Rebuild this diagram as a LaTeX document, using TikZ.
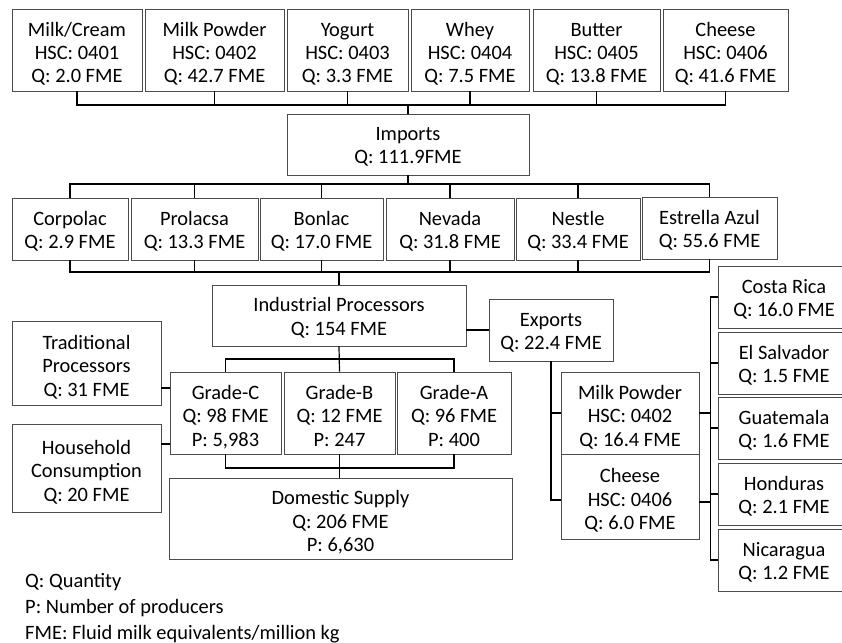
\documentclass[tikz,border=0pt]{standalone}
\usepackage{fontspec}
\setmainfont{Carlito}
\begin{document}
\begin{tikzpicture}[x=1bp,y=-1bp,
    font=\fontsize{20.5}{23.5}\selectfont,
    box/.style={draw=black!70,line width=0.9bp,align=center,inner sep=0pt,
        minimum height=#1,text height=39bp,text depth=0bp},
    box/.default=62bp,
    box3/.style={box=#1,text height=66bp},
    box3/.default=82bp,
    link/.style={draw=black,line width=1.2bp}]
    \useasboundingbox (0,0) rectangle (842,643);
    \coordinate (topbus) at (0,105);
    \coordinate (midbus) at (0,184);
    \coordinate (lowbus) at (0,272);
    \coordinate (gradetop) at (0,359);
    \coordinate (gradelow) at (0,468);
    % imported products
    \node[box3,minimum width=130bp] (milkcream) at (77,50) {Milk/Cream\\HSC: 0401\\Q: 2.0 FME};
    \node[box3,minimum width=139bp] (milkpowder) at (214.5,50) {Milk Powder\\HSC: 0402\\Q: 42.7 FME};
    \node[box3,minimum width=121bp] (yogurt) at (347.5,50) {Yogurt\\HSC: 0403\\Q: 3.3 FME};
    \node[box3,minimum width=118bp] (whey) at (470,50) {Whey\\HSC: 0404\\Q: 7.5 FME};
    \node[box3,minimum width=127bp] (butter) at (596.5,50) {Butter\\HSC: 0405\\Q: 13.8 FME};
    \node[box3,minimum width=125bp] (cheese) at (725.5,50) {Cheese\\HSC: 0406\\Q: 41.6 FME};
    \node[box=61bp,minimum width=242bp] (imports) at (408,144.5) {Imports\\Q: 111.9FME};
    % firms
    \node[box,minimum width=116bp] (corpolac) at (70,229) {Corpolac\\Q: 2.9 FME};
    \node[box,minimum width=127bp] (prolacsa) at (194.5,229) {Prolacsa\\Q: 13.3 FME};
    \node[box,minimum width=123bp] (bonlac) at (321.5,229) {Bonlac\\Q: 17.0 FME};
    \node[box,minimum width=128bp] (nevada) at (450,229) {Nevada\\Q: 31.8 FME};
    \node[box,minimum width=124bp] (nestle) at (578,229) {Nestle\\Q: 33.4 FME};
    \node[box,minimum width=135bp] (estrella) at (709.5,228) {Estrella Azul\\Q: 55.6 FME};
    \node[box=61bp,minimum width=254bp] (industrial) at (339,315.5) {Industrial Processors\\Q: 154 FME};
    \node[box,minimum width=124bp] (exports) at (551,330) {Exports\\Q: 22.4 FME};
    % domestic side
    \node[box3=84bp,minimum width=149bp] (traditional) at (86.5,363) {Traditional\\Processors\\Q: 31 FME};
    \node[box3=88bp,minimum width=149bp] (household) at (86.5,468) {Household\\Consumption\\Q: 20 FME};
    \node[box3,minimum width=111bp] (gradec) at (225.5,413) {Grade-C\\Q: 98 FME\\P: 5,983};
    \node[box3,minimum width=111bp] (gradeb) at (339.5,413) {Grade-B\\Q: 12 FME\\P: 247};
    \node[box3,minimum width=114bp] (gradea) at (454,413) {Grade-A\\Q: 96 FME\\P: 400};
    \node[box3=81bp,minimum width=343bp] (domestic) at (340.5,518.5) {Domestic Supply\\Q: 206 FME\\P: 6,630};
    % exported products and destinations
    \node[box3,minimum width=138bp] (expmilk) at (630,413) {Milk Powder\\HSC: 0402\\Q: 16.4 FME};
    \node[box3=85bp,minimum width=138bp] (expcheese) at (630,496.5) {Cheese\\HSC: 0406\\Q: 6.0 FME};
    \node[box,minimum width=132bp] (costarica) at (784,297) {Costa Rica\\Q: 16.0 FME};
    \node[box,minimum width=132bp] (elsalvador) at (784,363) {El Salvador\\Q: 1.5 FME};
    \node[box,minimum width=132bp] (guatemala) at (784,428) {Guatemala\\Q: 1.6 FME};
    \node[box,minimum width=132bp] (honduras) at (784,494) {Honduras\\Q: 2.1 FME};
    \node[box,minimum width=132bp] (nicaragua) at (784,560) {Nicaragua\\Q: 1.2 FME};
    \node[anchor=west,align=left,inner sep=0pt,font=\fontsize{20.5}{26}\selectfont] (legend) at (25,608)
        {Q: Quantity\\P: Number of producers\\FME: Fluid milk equivalents/million kg};
    % connectors
    \draw[link] (milkcream.south) |- (cheese.south |- topbus) -- (cheese.south);
    \foreach \n in {milkpowder,yogurt,whey,butter}
        \draw[link] (\n.south) -- (\n.south |- topbus);
    \draw[link] (imports.north |- topbus) -- (imports.north);
    \draw[link] (corpolac.north) |- (estrella.north |- midbus) -- (estrella.north);
    \draw[link] (corpolac.south) |- (estrella.south |- lowbus) -- (estrella.south);
    \foreach \n in {prolacsa,bonlac,nevada,nestle} {
        \draw[link] (\n.north) -- (\n.north |- midbus);
        \draw[link] (\n.south) -- (\n.south |- lowbus);
    }
    \draw[link] (imports.south) -- (imports.south |- midbus);
    \draw[link] (industrial.north |- lowbus) -- (industrial.north);
    \draw[link] (exports.west) -- (exports.west -| industrial.east);
    \draw[link] (gradec.north) |- (gradea.north |- gradetop) -- (gradea.north);
    \draw[link] (industrial.south) -- (gradeb.north);
    \draw[link] (gradec.south) |- (gradea.south |- gradelow) -- (gradea.south);
    \draw[link] (gradeb.south) -- (domestic.north -| gradeb.south);
    \draw[link] (traditional.east |- 0,388) -- (gradec.west |- 0,388);
    \draw[link] (household.east |- 0,444) -- (gradec.west |- 0,444);
    \draw[link] (exports.south) |- (expcheese.west |- 0,500);
    \draw[link] (exports.south |- expmilk.west) -- (expmilk.west);
    \draw[link] (expmilk.east) -- ++(12,0);
    \draw[link] (expcheese.east |- 0,502) -- ++(12,0);
    \draw[link] (costarica.west) -| ++(-7,0) |- (nicaragua.west);
    \foreach \n in {elsalvador,guatemala,honduras}
        \draw[link] (\n.west) -- ++(-7,0);
\end{tikzpicture}
\end{document}
